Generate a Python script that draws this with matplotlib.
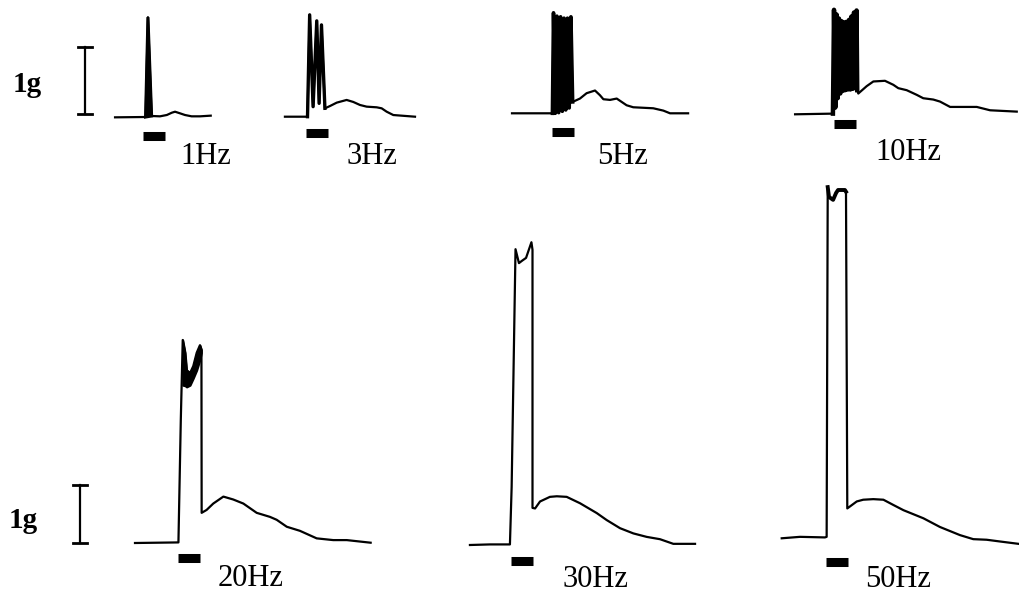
import matplotlib
matplotlib.use("Agg")
import matplotlib.pyplot as plt

# ---------------------------------------------------------------------------
# Isometric force traces (time in s from stimulus onset, force in g above
# resting baseline) for trains of 1 s stimulation at increasing frequency.
# ---------------------------------------------------------------------------
STIM_DURATION = 1.0          # s, black bar under every trace
SCALE_BAR_G = 1.0            # g

freq_labels = ["1Hz", "3Hz", "5Hz", "10Hz", "20Hz", "30Hz", "50Hz"]

# 1 Hz: single twitch
t_1hz = [-1.30, 0.12, 0.23, 0.40, 0.79, 1.11, 1.34, 1.49, 1.72, 1.95, 2.26, 2.65, 3.15]
g_1hz = [-0.005, 0.0, 1.49, 0.015, 0.01, 0.03, 0.064, 0.079, 0.055, 0.03, 0.01, 0.01, 0.02]

# 3 Hz: three twitches
pre_t_3hz, pre_g_3hz = [-0.98, 0.07], [0.0, 0.0]
peak_t_3hz, peak_g_3hz = [0.17, 0.50, 0.72], [1.52, 1.43, 1.37]
trough_t_3hz, trough_g_3hz = [0.33, 0.61], [0.15, 0.20]
post_t_3hz = [0.88, 1.12, 1.43, 1.89, 2.20, 2.51, 2.82, 3.29, 3.52, 3.75, 4.06, 5.07]
post_g_3hz = [0.125, 0.16, 0.21, 0.25, 0.22, 0.175, 0.15, 0.14, 0.125, 0.075, 0.025, 0.0]

# 5 Hz: unfused train
pre_t_5hz, pre_g_5hz = [-1.86, 0.02], [0.0, 0.0]
peak_t_5hz = [0.07, 0.23, 0.40, 0.56, 0.72, 0.88]
peak_g_5hz = [1.50, 1.45, 1.44, 1.42, 1.42, 1.44]
trough_t_5hz = [0.15, 0.31, 0.48, 0.64, 0.80]
trough_g_5hz = [0.0, 0.01, 0.03, 0.05, 0.08]
post_t_5hz = [0.96, 1.30, 1.61, 2.00, 2.23, 2.39, 2.70, 3.01, 3.24, 3.47, 3.78, 4.71, 5.18, 5.49, 6.33]
post_g_5hz = [0.17, 0.22, 0.30, 0.34, 0.27, 0.21, 0.20, 0.22, 0.17, 0.12, 0.09, 0.075, 0.04, 0.0, 0.0]

# 10 Hz: partially fused train
pre_t_10hz, pre_g_10hz = [-1.81, -0.05], [0.0, 0.01]
peak_t_10hz = [0.0, 0.12, 0.23, 0.35, 0.47, 0.58, 0.70, 0.81, 0.93, 1.05]
peak_g_10hz = [1.56, 1.49, 1.43, 1.39, 1.37, 1.38, 1.41, 1.46, 1.52, 1.55]
trough_t_10hz = [0.06, 0.17, 0.29, 0.41, 0.52, 0.64, 0.76, 0.87, 0.99]
trough_g_10hz = [0.10, 0.24, 0.31, 0.35, 0.36, 0.37, 0.37, 0.38, 0.39]
post_t_10hz = [1.08, 1.13, 1.52, 1.83, 2.37, 2.76, 2.99, 3.38, 3.85, 4.15, 4.62, 4.93, 5.40, 6.64, 7.26, 8.50]
post_g_10hz = [0.36, 0.31, 0.42, 0.49, 0.50, 0.44, 0.39, 0.36, 0.29, 0.24, 0.22, 0.19, 0.11, 0.11, 0.06, 0.04]

# 20 Hz: tetanus with visible ripple (band = ripple peaks / troughs)
t_20hz = [-2.00, 0.02, 0.13, 0.22, 0.33, 0.40, 0.56, 0.71, 0.87, 1.02, 1.09,
          1.10, 1.33, 1.64, 2.11, 2.57, 3.04, 3.66, 4.28, 4.59, 5.06, 5.67, 6.45, 7.22, 7.85, 8.96]
g_20hz = [0.0, 0.01, 2.12, 3.50, 3.28, 2.98, 2.93, 3.05, 3.28, 3.41, 3.33,
          0.52, 0.57, 0.68, 0.80, 0.75, 0.68, 0.52, 0.45, 0.40, 0.28, 0.21, 0.08, 0.05, 0.05, 0.005]
band_t_20hz = [0.22, 0.33, 0.40, 0.56, 0.71, 0.87, 1.02, 1.09]
band_hi_20hz = [3.50, 3.28, 2.98, 2.93, 3.05, 3.28, 3.41, 3.33]
band_lo_20hz = [2.72, 2.71, 2.69, 2.72, 2.84, 2.98, 3.16, 3.28]

# 30 Hz: near-fused tetanus
t_30hz = [-1.91, -0.98, -0.05, 0.03, 0.21, 0.37, 0.51, 0.70, 0.95, 1.00, 1.00,
          1.12, 1.35, 1.81, 2.13, 2.59, 3.21, 3.99, 4.45, 5.07, 5.69, 6.31, 6.93, 7.55, 8.56]
g_30hz = [0.0, 0.01, 0.01, 1.00, 5.10, 4.86, 4.90, 4.95, 5.22, 5.09, 0.64,
          0.63, 0.75, 0.83, 0.84, 0.83, 0.72, 0.55, 0.43, 0.29, 0.20, 0.14, 0.10, 0.02, 0.02]

# 50 Hz: fused tetanus
t_50hz = [-2.06, -1.21, -0.05, 0.03, 0.08, 0.14, 0.33, 0.47, 0.56, 0.88, 0.93, 0.99,
          1.43, 1.73, 2.20, 2.67, 3.13, 3.60, 4.53, 5.30, 6.23, 6.85, 7.47, 8.09, 8.94]
g_50hz = [-0.005, 0.02, 0.01, 0.02, 6.05, 5.88, 5.83, 5.95, 6.00, 6.00, 5.97, 0.51,
          0.63, 0.66, 0.67, 0.66, 0.57, 0.48, 0.34, 0.19, 0.05, -0.02, -0.03, -0.06, -0.10]


def train(pre_t, pre_g, pk_t, pk_g, tr_t, tr_g, post_t, post_g):
    """Join baseline, alternating twitch peaks/troughs and relaxation."""
    t, g = list(pre_t), list(pre_g)
    for i in range(len(pk_t)):
        t.append(pk_t[i]); g.append(pk_g[i])
        if i < len(tr_t):
            t.append(tr_t[i]); g.append(tr_g[i])
    return t + list(post_t), g + list(post_g)


t_3hz, g_3hz = train(pre_t_3hz, pre_g_3hz, peak_t_3hz, peak_g_3hz,
                     trough_t_3hz, trough_g_3hz, post_t_3hz, post_g_3hz)
t_5hz, g_5hz = train(pre_t_5hz, pre_g_5hz, peak_t_5hz, peak_g_5hz,
                     trough_t_5hz, trough_g_5hz, post_t_5hz, post_g_5hz)
t_10hz, g_10hz = train(pre_t_10hz, pre_g_10hz, peak_t_10hz, peak_g_10hz,
                       trough_t_10hz, trough_g_10hz, post_t_10hz, post_g_10hz)

traces = [(t_1hz, g_1hz), (t_3hz, g_3hz), (t_5hz, g_5hz), (t_10hz, g_10hz),
          (t_20hz, g_20hz), (t_30hz, g_30hz), (t_50hz, g_50hz)]

# ---------------------------------------------------------------------------
# Layout (figure pixels, origin top-left)
# ---------------------------------------------------------------------------
W, H, DPI = 1019, 594, 100
PX_PER_S = 21.5
TOP_PX_PER_G, BOT_PX_PER_G = 67.0, 58.0

# onset x, baseline y, px per g, stimulus bar y, label x, label baseline y
layout = [
    (143, 117.0, TOP_PX_PER_G, 135.5, 180, 164),
    (306, 116.7, TOP_PX_PER_G, 133.0, 347, 164),
    (552, 113.3, TOP_PX_PER_G, 131.7, 597, 164),
    (834, 114.3, TOP_PX_PER_G, 124.0, 875, 160),
    (178, 543.0, BOT_PX_PER_G, 558.0, 218, 586),
    (511, 545.0, BOT_PX_PER_G, 561.0, 563, 587),
    (826, 538.0, BOT_PX_PER_G, 562.0, 865, 587),
]

SERIF = ["Liberation Serif", "DejaVu Serif"]
LW = 1.6

fig = plt.figure(figsize=(W / DPI, H / DPI), dpi=DPI)
fig.patch.set_facecolor("white")


def panel_axes(x0, y0, px_per_g):
    ax = fig.add_axes([0, 0, 1, 1])
    ax.set_xlim(-x0 / PX_PER_S, (W - x0) / PX_PER_S)
    ax.set_ylim(-(H - y0) / px_per_g, y0 / px_per_g)
    ax.axis("off")
    ax.patch.set_alpha(0)
    return ax


axes = []
for (t, g), (x0, y0, s, ybar, lx, ly), lab in zip(traces, layout, freq_labels):
    ax = panel_axes(x0, y0, s)
    axes.append(ax)
    ax.plot(t, g, color="black", lw=LW, solid_joinstyle="round")
    # stimulus bar
    ax.plot([0, STIM_DURATION], [(y0 - ybar) / s] * 2, color="black",
            lw=6.5, solid_capstyle="butt")
    fig.text(lx / W, 1 - ly / H, lab, ha="left", va="baseline",
             family=SERIF, fontsize=22)

# heavier strokes for the individual twitches of the unfused trains
burst_width = {1: 2.4, 2: 2.6, 3: 3.2}
burst_pieces = {
    1: (pre_t_3hz[-1:], pre_g_3hz[-1:], peak_t_3hz, peak_g_3hz, trough_t_3hz, trough_g_3hz,
        post_t_3hz[:1], post_g_3hz[:1]),
    2: (pre_t_5hz[-1:], pre_g_5hz[-1:], peak_t_5hz, peak_g_5hz, trough_t_5hz, trough_g_5hz,
        post_t_5hz[:1], post_g_5hz[:1]),
    3: (pre_t_10hz[-1:], pre_g_10hz[-1:], peak_t_10hz, peak_g_10hz, trough_t_10hz,
        trough_g_10hz, post_t_10hz[:1], post_g_10hz[:1]),
}
for i, pieces in burst_pieces.items():
    bt, bg = train(*pieces)
    axes[i].plot(bt, bg, color="black", lw=burst_width[i], solid_joinstyle="round")
# 10 Hz ripple is fused into a solid block
axes[3].fill_between(peak_t_10hz[1:], [0.24, 0.31, 0.35, 0.36, 0.37, 0.37, 0.38, 0.39, 0.39],
                     peak_g_10hz[1:], color="black", lw=0)

# the ripple band of the 20 Hz tetanus
axes[4].fill_between(band_t_20hz, band_lo_20hz, band_hi_20hz, color="black", lw=1.4)
# thick plateau of the 50 Hz tetanus
axes[6].plot(t_50hz[4:11], g_50hz[4:11], color="black", lw=2.8)
# single twitch drawn solid
axes[0].fill(t_1hz[1:4], g_1hz[1:4], color="black", lw=2.2)


def scale_bar(ax, t_pos, g0):
    cap = 0.33
    ax.plot([t_pos, t_pos], [g0, g0 + SCALE_BAR_G], color="black", lw=1.6)
    for gy in (g0, g0 + SCALE_BAR_G):
        ax.plot([t_pos - cap, t_pos + cap], [gy, gy], color="black", lw=2.0)


scale_bar(axes[0], (85 - 143) / PX_PER_S, 0.045)
scale_bar(axes[4], (80 - 178) / PX_PER_S, 0.0)

fig.text(13 / W, 1 - 92 / H, "1g", ha="left", va="baseline", family=SERIF,
         fontweight="bold", fontsize=21)
fig.text(9 / W, 1 - 528 / H, "1g", ha="left", va="baseline", family=SERIF,
         fontweight="bold", fontsize=21)

fig.savefig("out.png", dpi=DPI, facecolor="white")
